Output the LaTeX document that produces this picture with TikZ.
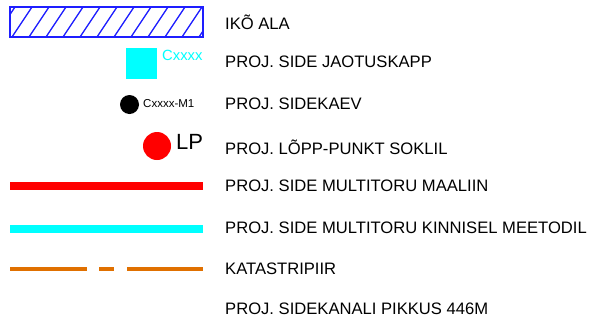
\documentclass[tikz,border=0pt]{standalone}
\usepackage{fontspec}
\setmainfont{Liberation Sans}
\definecolor{ikoblue}{RGB}{30,30,255}
\definecolor{skapcyan}{RGB}{0,255,255}
\definecolor{kataorange}{RGB}{224,112,0}
\tikzset{%
  legtext/.style  = {anchor=base west, inner sep=0pt,%
                     font=\fontsize{16.6}{19}\selectfont},%
  symlabel/.style = {anchor=base west, inner sep=0pt},%
  pipe/.style     = {line width=8pt, line cap=butt},%
  dot/.style      = {circle, inner sep=0pt}%
}

\begin{document}
\begin{tikzpicture}[x=1pt,y=-1pt]
		\useasboundingbox (0,0) rectangle (591,322);
		% symbols
		\begin{scope}
			\clip (10,7) rectangle (203,37);
			\foreach \x in {-22,-5,...,216}
				\draw[ikoblue, line width=1.3pt] (\x,37) -- ++(20,-30);
		\end{scope}
		\draw[ikoblue, line width=1.5pt] (10,7) rectangle (203,37);
		\node (kapp) [fill=skapcyan, minimum size=31pt, inner sep=0pt] at (141.5,63.5) {};
		\node (kapplab) [symlabel, text=skapcyan, font=\fontsize{14.8}{16}\selectfont] at (162,60) {Cxxxx};
		\node (kaev) [dot, fill=black, minimum size=19pt] at (129.5,104.5) {};
		\node (kaevlab) [symlabel, font=\fontsize{11.5}{13}\selectfont] at (143,107.5) {Cxxxx-M1};
		\node (lp) [dot, fill=red, minimum size=28pt] at (157,146) {};
		\node (lplab) [symlabel, font=\fontsize{22}{24}\selectfont] at (176,149) {LP};
		\coordinate (maa1) at (10,186);
		\coordinate (maa2) at (203,186);
		\draw[pipe, red] (maa1) -- (maa2);
		\coordinate (kin1) at (10,228.5);
		\coordinate (kin2) at (203,228.5);
		\draw[pipe, skapcyan] (kin1) -- (kin2);
		\coordinate (kat1) at (10,268.7);
		\coordinate (kat2) at (203,268.7);
		\draw[kataorange, line width=4pt, dash pattern=on 77pt off 12pt on 15pt off 13pt] (kat1) -- (kat2);
		% texts
		\node (t1) [legtext] at (225,29) {IKÕ ALA};
		\node (t2) [legtext] at (225,67) {PROJ. SIDE JAOTUSKAPP};
		\node (t3) [legtext] at (225,109.5) {PROJ. SIDEKAEV};
		\node (t4) [legtext] at (225,154.5) {PROJ. LÕPP-PUNKT SOKLIL};
		\node (t5) [legtext] at (225,191.5) {PROJ. SIDE MULTITORU MAALIIN};
		\node (t6) [legtext] at (225,233.5) {PROJ. SIDE MULTITORU KINNISEL MEETODIL};
		\node (t7) [legtext] at (225,274) {KATASTRIPIIR};
		\node (t8) [legtext] at (225,314) {PROJ. SIDEKANALI PIKKUS 446M};
		\end{tikzpicture}
\end{document}
